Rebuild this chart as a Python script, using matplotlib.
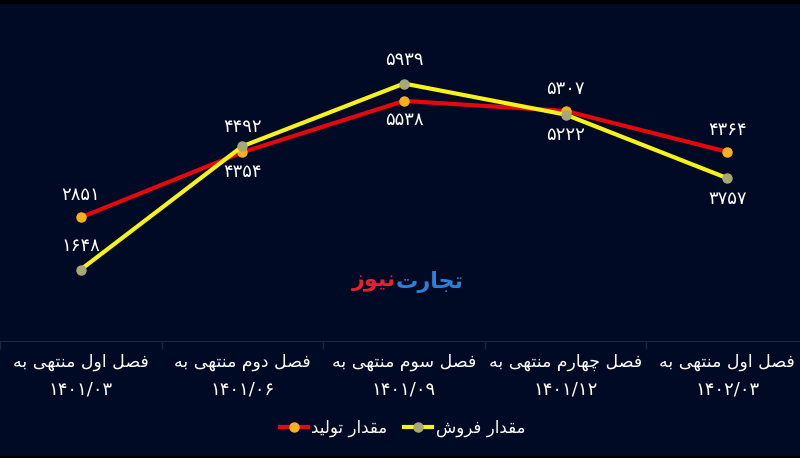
import matplotlib.pyplot as plt
from matplotlib.patches import Rectangle

# --- data ---
categories = ["فصل اول منتهی به", "فصل دوم منتهی به", "فصل سوم منتهی به",
              "فصل چهارم منتهی به", "فصل اول منتهی به"]
periods = ["۱۴۰۱/۰۳", "۱۴۰۱/۰۶", "۱۴۰۱/۰۹", "۱۴۰۱/۱۲", "۱۴۰۲/۰۳"]
production = [2851, 4354, 5538, 5307, 4364]
sales = [1648, 4492, 5939, 5222, 3757]
series_names = ["مقدار تولید", "مقدار فروش"]
# label placement: 1 above, -1 below
prod_side = [1, -1, -1, 1, 1]
sales_side = [1, 1, 1, -1, -1]

# --- minimal persian shaping (matplotlib has no shaping / bidi) ---
FORMS = {  # isolated, final, initial, medial
    'ا': ('\uFE8D', '\uFE8E'), 'د': ('\uFEA9', '\uFEAA'), 'ر': ('\uFEAD', '\uFEAE'),
    'ز': ('\uFEAF', '\uFEB0'), 'و': ('\uFEED', '\uFEEE'),
    'ب': ('\uFE8F', '\uFE90', '\uFE91', '\uFE92'), 'ت': ('\uFE95', '\uFE96', '\uFE97', '\uFE98'),
    'ج': ('\uFE9D', '\uFE9E', '\uFE9F', '\uFEA0'), 'س': ('\uFEB1', '\uFEB2', '\uFEB3', '\uFEB4'),
    'ش': ('\uFEB5', '\uFEB6', '\uFEB7', '\uFEB8'), 'ص': ('\uFEB9', '\uFEBA', '\uFEBB', '\uFEBC'),
    'ف': ('\uFED1', '\uFED2', '\uFED3', '\uFED4'), 'ق': ('\uFED5', '\uFED6', '\uFED7', '\uFED8'),
    'ل': ('\uFEDD', '\uFEDE', '\uFEDF', '\uFEE0'), 'م': ('\uFEE1', '\uFEE2', '\uFEE3', '\uFEE4'),
    'ن': ('\uFEE5', '\uFEE6', '\uFEE7', '\uFEE8'), 'ه': ('\uFEE9', '\uFEEA', '\uFEEB', '\uFEEC'),
    'ی': ('\uFBFC', '\uFBFD', '\uFBFE', '\uFBFF'), 'چ': ('\uFB7A', '\uFB7B', '\uFB7C', '\uFB7D'),
}


def shape(text):
    out = []
    for i, ch in enumerate(text):
        if ch not in FORMS:
            out.append(ch)
            continue
        prev = text[i - 1] if i > 0 else ''
        nxt = text[i + 1] if i + 1 < len(text) else ''
        joins_prev = prev in FORMS and len(FORMS[prev]) == 4
        joins_next = nxt in FORMS and len(FORMS[ch]) == 4
        f = FORMS[ch]
        if joins_prev and joins_next:
            out.append(f[3])
        elif joins_prev:
            out.append(f[1])
        elif joins_next:
            out.append(f[2])
        else:
            out.append(f[0])
    return ''.join(out)[::-1]


def fa_num(n):
    return str(n).translate(str.maketrans("0123456789", "۰۱۲۳۴۵۶۷۸۹"))


bg = '#010a24'
plt.rcParams['font.family'] = ['DejaVu Sans']

fig = plt.figure(figsize=(8, 4.58), dpi=100, facecolor=bg)
fig.patches.append(Rectangle((0, 0.994), 1, 0.006, transform=fig.transFigure, color='black'))
fig.patches.append(Rectangle((0, 0), 1, 0.005, transform=fig.transFigure, color='black'))

ax = fig.add_axes([0, 1 - 341 / 458, 1.01, 341 / 458])
ax.set_facecolor(bg)
x = list(range(len(categories)))

ax.plot(x, production, color='#e5080a', lw=3, marker='o', ms=6.5,
        mfc='#f5b120', mec='#f5b120', label=shape(series_names[0]), zorder=3)
ax.plot(x, sales, color='#f7f21a', lw=3, marker='o', ms=6.5,
        mfc='#a7a878', mec='#a7a878', label=shape(series_names[1]), zorder=4)

for xi, v, s in zip(x, production, prod_side):
    ax.annotate(fa_num(v), (xi, v), xytext=(0, 16 if s > 0 else -14), textcoords='offset points',
                ha='center', va='center', color='white', fontsize=13)
for xi, v, s in zip(x, sales, sales_side):
    ax.annotate(fa_num(v), (xi, v), xytext=(0, 14 if s > 0 and v < 5000 and xi > 0 else (17 if s > 0 else -15)),
                textcoords='offset points', ha='center', va='center', color='white', fontsize=13)

ax.set_xlim(-0.5, 4.45)
ax.set_ylim(0, 7866)
ax.set_yticks([])
ax.set_xticks([i + 0.5 for i in range(-1, 5)], minor=False)
ax.set_xticklabels([])
ax.tick_params(axis='x', length=6, color='#1c2642', width=1)
for xi, c, p in zip(x, categories, periods):
    ax.text(xi, -0.063, shape(c), transform=ax.get_xaxis_transform(), ha='center',
            va='center', color='white', fontsize=12.5)
    ax.text(xi, -0.143, p, transform=ax.get_xaxis_transform(), ha='center',
            va='center', color='white', fontsize=13)

for side in ['top', 'right', 'left']:
    ax.spines[side].set_visible(False)
ax.spines['bottom'].set_color('#1c2642')

# watermark
fig.text(0.495, 0.385, shape("تجارت"), color='#2f7fd6', fontsize=16, fontweight='bold',
         ha='left', va='center')
fig.text(0.495, 0.385, shape("نیوز"), color='#e8202e', fontsize=16, fontweight='bold',
         ha='right', va='center')

leg = fig.legend(loc='center', bbox_to_anchor=(0.503, 0.066), ncol=2, frameon=False,
                 fontsize=12, labelcolor='white', handlelength=1.7, columnspacing=1.0,
                 handletextpad=0.2)

fig.savefig('out.png', dpi=100, facecolor=bg)
